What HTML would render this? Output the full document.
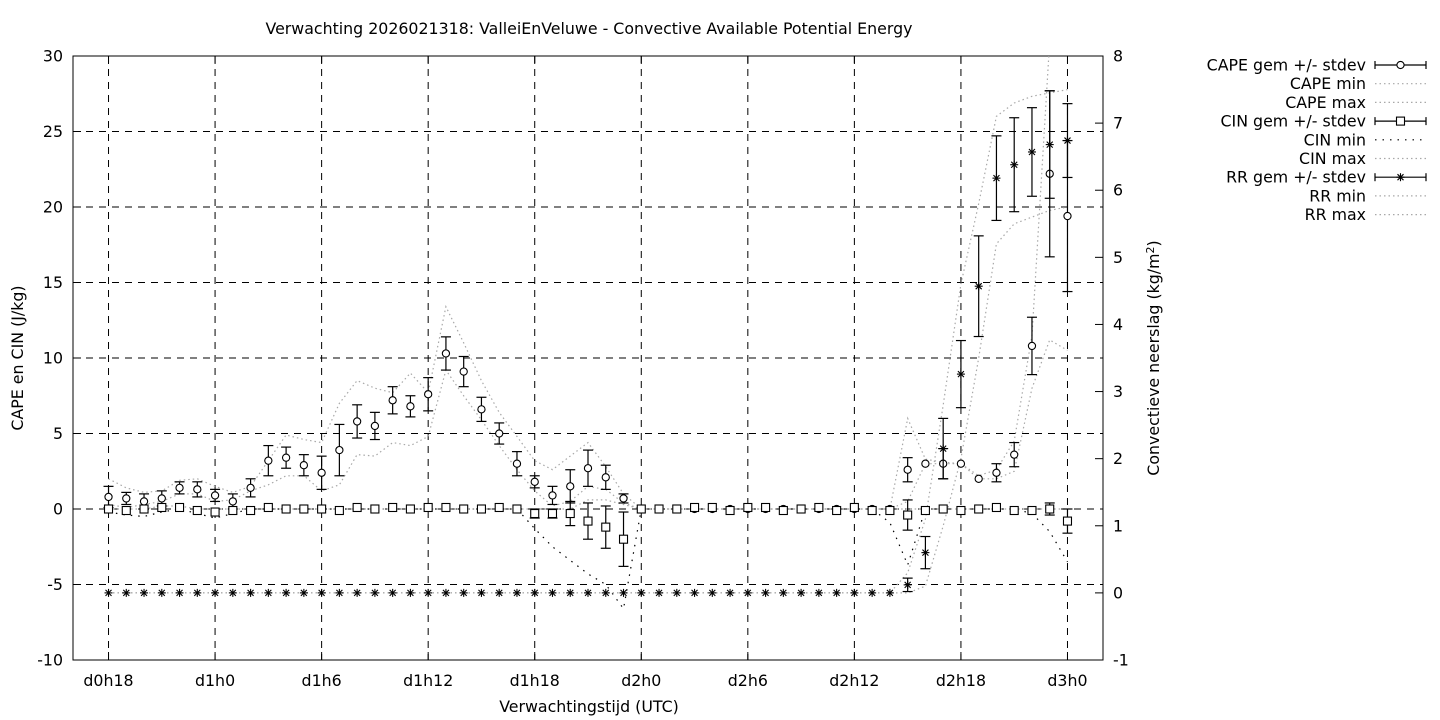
<!DOCTYPE html>
<html><head><meta charset="utf-8"><title>CAPE chart</title>
<style>
html,body{margin:0;padding:0;background:#fff;}
svg{display:block;font-family:"DejaVu Sans","Liberation Sans",sans-serif;}
</style></head>
<body>
<svg id="chart" width="1440" height="720" viewBox="0 0 1440 720" xmlns="http://www.w3.org/2000/svg">
<defs><clipPath id="plotclip"><rect x="73" y="56" width="1030" height="604"/></clipPath></defs>
<rect x="0" y="0" width="1440" height="720" fill="#fff"/>
<text x="589" y="34" text-anchor="middle" font-size="15.8">Verwachting 2026021318: ValleiEnVeluwe - Convective Available Potential Energy</text>
<text x="589" y="712" text-anchor="middle" font-size="15.8">Verwachtingstijd (UTC)</text>
<text transform="translate(23,358) rotate(-90)" text-anchor="middle" font-size="15.8">CAPE en CIN (J/kg)</text>
<text transform="translate(1159,358) rotate(-90)" text-anchor="middle" font-size="15.8">Convectieve neerslag (kg/m<tspan dy="-5" font-size="11">2</tspan><tspan dy="5">)</tspan></text>
<g id="grid"></g>
<g id="axes"></g>
<g id="series" clip-path="url(#plotclip)"></g>
<g id="legend"></g>
</svg>
<script>
const xTickLabels = ["d0h18","d1h0","d1h6","d1h12","d1h18","d2h0","d2h6","d2h12","d2h18","d3h0"];
const xTickHours = [0,6,12,18,24,30,36,42,48,54];
const yLeftTicks = [-10,-5,0,5,10,15,20,25,30];
const yRightTicks = [-1,0,1,2,3,4,5,6,7,8];
const hours = [0,1,2,3,4,5,6,7,8,9,10,11,12,13,14,15,16,17,18,19,20,21,22,23,24,25,26,27,28,29,30,31,32,33,34,35,36,37,38,39,40,41,42,43,44,45,46,47,48,49,50,51,52,53,54];
const capeMean = [0.8,0.7,0.5,0.7,1.4,1.3,0.9,0.5,1.4,3.2,3.4,2.9,2.4,3.9,5.8,5.5,7.2,6.8,7.6,10.3,9.1,6.6,5.0,3.0,1.8,0.9,1.5,2.7,2.1,0.7, 0,0,0,0,0,0,0,0,0,0,0,0,0,0,0, 2.6,3.0,3.0,3.0,2.0,2.4,3.6,10.8,22.2,19.4];
const capeSd = [0.7,0.4,0.5,0.5,0.4,0.5,0.4,0.5,0.6,1.0,0.7,0.7,1.1,1.7,1.1,0.9,0.9,0.7,1.1,1.1,1.0,0.8,0.7,0.8,0.4,0.6,1.1,1.2,0.8,0.3, 0,0,0,0,0,0,0,0,0,0,0,0,0,0,0, 0.8,0,1.0,0,0,0.6,0.8,1.9,5.5,5.0];
const capeMin = [0.3,0.1,0.3,0.5,1.0,1.0,0.5,0.6,1.2,1.6,2.2,2.2,1.2,1.6,3.6,3.5,4.4,4.2,4.8,9.2,7.5,5.9,4.2,2.6,1.2,0.2,0.5,1.5,1.3,0.4, 0,0,0,0,0,0,0,0,0,0,0,0,0,0,0, 0.5,3.0,3.0,3.0,2.0,2.0,2.5,8.0,11.2,10.5];
const capeMax = [2.0,1.4,1.1,1.2,1.9,2.0,1.5,1.1,1.5,3.2,4.9,4.6,4.4,7.0,8.5,8.0,7.7,9.0,7.7,13.4,11.0,8.5,6.4,4.8,3.2,2.6,3.5,4.4,2.8,1.0, 0,0,0,0,0,0,0,0,0,0,0,0,0,0,0, 6.0,3.3,3.1,3.0,2.2,2.6,4.5,11.5,31,31];
const cinMean = [0,-0.1,0,0.1,0.1,-0.1,-0.2,-0.1,-0.1,0.1,0,0,0,-0.1,0.1,0,0.1,0,0.1,0.1,0,0,0.1,0,-0.3,-0.3,-0.3,-0.8,-1.2,-2.0, 0,0,0,0.1,0.1,-0.1,0.1,0.1,-0.1,0,0.1,-0.1,0.1,-0.1,-0.1, -0.4,-0.1,0,-0.1,0,0.1,-0.1,-0.1,0,-0.8];
const cinSd = [0,0,0,0,0,0,0,0,0,0,0,0,0,0,0,0,0,0,0,0,0,0,0,0,0.3,0.3,0.8,1.2,1.4,1.8, 0,0,0,0,0,0,0,0,0,0,0,0,0,0,0, 1.0,0,0,0,0,0,0,0,0.4,0.8];
const cinMin = [-0.2,-0.4,-0.5,-0.2,0,-0.3,-0.6,-0.3,0,0,0,0,0,0,0,0,0,0,0,0,0,0,0,0,-1.3,-2.5,-3.4,-4.3,-5.0,-6.6, 0,0,0,0,0,0,0,0,0,0,0,0,0,0,-0.9, -3.7,0,0,0,0,0,0,-0.3,-1.5,-3.5];
const cinMax = [0,0,0,0.2,0.2,0,0,0,0,0,0,0,0,0,0,0,0,0,0,0,0,0,0,0,0,0,0,0.6,0.6,0.3, 0,0,0,0,0,0,0,0,0,0,0,0,0,0,0, 0,0,0,0,0,0,0,0,0,0];
const rrMean = [0,0,0,0,0,0,0,0,0,0,0,0,0,0,0,0,0,0,0,0,0,0,0,0,0,0,0,0,0,0, 0,0,0,0,0,0,0,0,0,0,0,0,0,0,0, 0.12,0.6,2.15,3.26,4.57,6.18,6.38,6.57,6.68,6.74];
const rrSd = [0,0,0,0,0,0,0,0,0,0,0,0,0,0,0,0,0,0,0,0,0,0,0,0,0,0,0,0,0,0, 0,0,0,0,0,0,0,0,0,0,0,0,0,0,0, 0.1,0.24,0.45,0.5,0.75,0.63,0.7,0.66,0.8,0.55];
const rrMin = [0,0,0,0,0,0,0,0,0,0,0,0,0,0,0,0,0,0,0,0,0,0,0,0,0,0,0,0,0,0, 0,0,0,0,0,0,0,0,0,0,0,0,0,0,0, 0,0.1,1.0,2.0,3.5,5.2,5.5,5.6,5.7,5.75];
const rrMax = [0,0,0,0,0,0,0,0,0,0,0,0,0,0,0,0,0,0,0,0,0,0,0,0,0,0,0,0,0,0, 0,0,0,0,0,0,0,0,0,0,0,0,0,0,0, 0.3,1.1,2.8,4.6,5.8,7.1,7.3,7.4,7.45,7.5];

const NS = "http://www.w3.org/2000/svg";
const PL = 73, PR = 1103, PT = 56, PB = 660;
const FS = 15.8;
function xS(h){ return PL + (h + 2) * (PR - PL) / 58; }
function yL(v){ return PB - (v + 10) * (PB - PT) / 40; }
function yR(v){ return PB - (v + 1) * (PB - PT) / 9; }
function mk(tag, attrs, parent){
  const e = document.createElementNS(NS, tag);
  for (const k in attrs) e.setAttribute(k, attrs[k]);
  parent.appendChild(e);
  return e;
}
const grid = document.getElementById('grid');
const axes = document.getElementById('axes');
const series = document.getElementById('series');
const legend = document.getElementById('legend');

xTickHours.forEach((h, i) => {
  const l = mk('line', {x1:xS(h), x2:xS(h), y1:PT, y2:PB, stroke:'#000', 'stroke-width':1, 'stroke-dasharray':'7,6'}, grid);
  
  
  const t = mk('line', {x1:xS(h), x2:xS(h), y1:PB, y2:PB-8, stroke:'#000'}, axes);
  
  
  const t2 = mk('line', {x1:xS(h), x2:xS(h), y1:PT, y2:PT+8, stroke:'#000'}, axes);
  
  
  const tx = mk('text', {x:xS(h), y:PB+26, 'text-anchor':'middle', 'font-size':FS}, axes);
  tx.textContent = xTickLabels[i];
  
  
});
yLeftTicks.forEach(v => {
  if (v > -10 && v < 30) {
    const l = mk('line', {x1:PL, x2:PR, y1:yL(v), y2:yL(v), stroke:'#000', 'stroke-width':1, 'stroke-dasharray':'7,6'}, grid);
    
    
  }
  const t = mk('line', {x1:PL, x2:PL+8, y1:yL(v), y2:yL(v), stroke:'#000'}, axes);
  
  
  const tx = mk('text', {x:PL-10, y:yL(v)+5.5, 'text-anchor':'end', 'font-size':FS}, axes);
  tx.textContent = String(v);
  
  
});
yRightTicks.forEach(v => {
  const t = mk('line', {x1:PR, x2:PR-8, y1:yR(v), y2:yR(v), stroke:'#000'}, axes);
  
  
  const tx = mk('text', {x:PR+10, y:yR(v)+5.5, 'text-anchor':'start', 'font-size':FS}, axes);
  tx.textContent = String(v);
  
  
});
const frame = mk('rect', {x:PL, y:PT, width:PR-PL, height:PB-PT, fill:'none', stroke:'#000', 'stroke-width':1}, axes);



const GREY = {stroke:'#a8a8a8', 'stroke-width':1.2, 'stroke-dasharray':'1.5,3', fill:'none'};
const BLACKDOT = {stroke:'#000', 'stroke-width':1.2, 'stroke-dasharray':'1.5,6', fill:'none'};
function pathFor(vals, yf){
  return vals.map((v, i) => (i ? 'L' : 'M') + xS(hours[i]).toFixed(1) + ',' + yf(v).toFixed(1)).join(' ');
}
function drawLine(vals, yf, style, name){
  const p = mk('path', Object.assign({d:pathFor(vals, yf)}, style), series);
  
  
}
drawLine(capeMin, yL, GREY, 'cape-min-line');
drawLine(capeMax, yL, GREY, 'cape-max-line');
drawLine(cinMin, yL, BLACKDOT, 'cin-min-line');
drawLine(cinMax, yL, GREY, 'cin-max-line');
drawLine(rrMin, yR, GREY, 'rr-min-line');
drawLine(rrMax, yR, GREY, 'rr-max-line');

function errBar(x, y1, y2, parent){
  const g = mk('g', {stroke:'#000', 'stroke-width':1.2}, parent);
  mk('line', {x1:x, x2:x, y1:y1, y2:y2}, g);
  mk('line', {x1:x-5, x2:x+5, y1:y1, y2:y1}, g);
  mk('line', {x1:x-5, x2:x+5, y1:y2, y2:y2}, g);
  return g;
}
function circleMark(x, y, parent){
  return mk('circle', {cx:x, cy:y, r:3.6, fill:'#fff', stroke:'#000', 'stroke-width':1.1}, parent);
}
function squareMark(x, y, parent){
  return mk('rect', {x:x-4, y:y-4, width:8, height:8, fill:'#fff', stroke:'#000', 'stroke-width':1.1}, parent);
}
function starMark(x, y, parent){
  const g = mk('g', {stroke:'#000', 'stroke-width':1.1}, parent);
  mk('line', {x1:x-4, x2:x+4, y1:y, y2:y}, g);
  mk('line', {x1:x, x2:x, y1:y-4, y2:y+4}, g);
  mk('line', {x1:x-3, x2:x+3, y1:y-3, y2:y+3}, g);
  mk('line', {x1:x-3, x2:x+3, y1:y+3, y2:y-3}, g);
  return g;
}
function drawErrSeries(mean, sd, yf, marker, name){
  const g = mk('g', {}, series);
  
  
  mean.forEach((v, i) => {
    const x = xS(hours[i]);
    if (sd[i] > 0) {
      const b = errBar(x, yf(v + sd[i]), yf(v - sd[i]), g);
      
      
    }
    const m = marker(x, yf(v), g);
    
    
  });
}
drawErrSeries(capeMean, capeSd, yL, circleMark, 'cape-mean');
drawErrSeries(cinMean, cinSd, yL, squareMark, 'cin-mean');
drawErrSeries(rrMean, rrSd, yR, starMark, 'rr-mean');

const legendLabels = ["CAPE gem +/- stdev","CAPE min","CAPE max","CIN gem +/- stdev","CIN min","CIN max","RR gem +/- stdev","RR min","RR max"];
const LX1 = 1375, LX2 = 1426, LTX = 1366;
legendLabels.forEach((lab, i) => {
  const y = 65 + i * 18.7;
  const g = mk('g', {}, legend);
  
  
  const t = mk('text', {x:LTX, y:y+5.5, 'text-anchor':'end', 'font-size':FS}, g);
  t.textContent = lab;
  if (i === 0 || i === 3 || i === 6) {
    mk('line', {x1:LX1, x2:LX2, y1:y, y2:y, stroke:'#000', 'stroke-width':1.2}, g);
    mk('line', {x1:LX1, x2:LX1, y1:y-4, y2:y+4, stroke:'#000', 'stroke-width':1.2}, g);
    mk('line', {x1:LX2, x2:LX2, y1:y-4, y2:y+4, stroke:'#000', 'stroke-width':1.2}, g);
    const cx = (LX1 + LX2) / 2;
    if (i === 0) circleMark(cx, y, g);
    else if (i === 3) squareMark(cx, y, g);
    else starMark(cx, y, g);
  } else {
    const st = (i === 4) ? BLACKDOT : GREY;
    mk('line', Object.assign({x1:LX1, x2:LX2, y1:y, y2:y}, st), g);
  }
});
</script>
</body></html>
